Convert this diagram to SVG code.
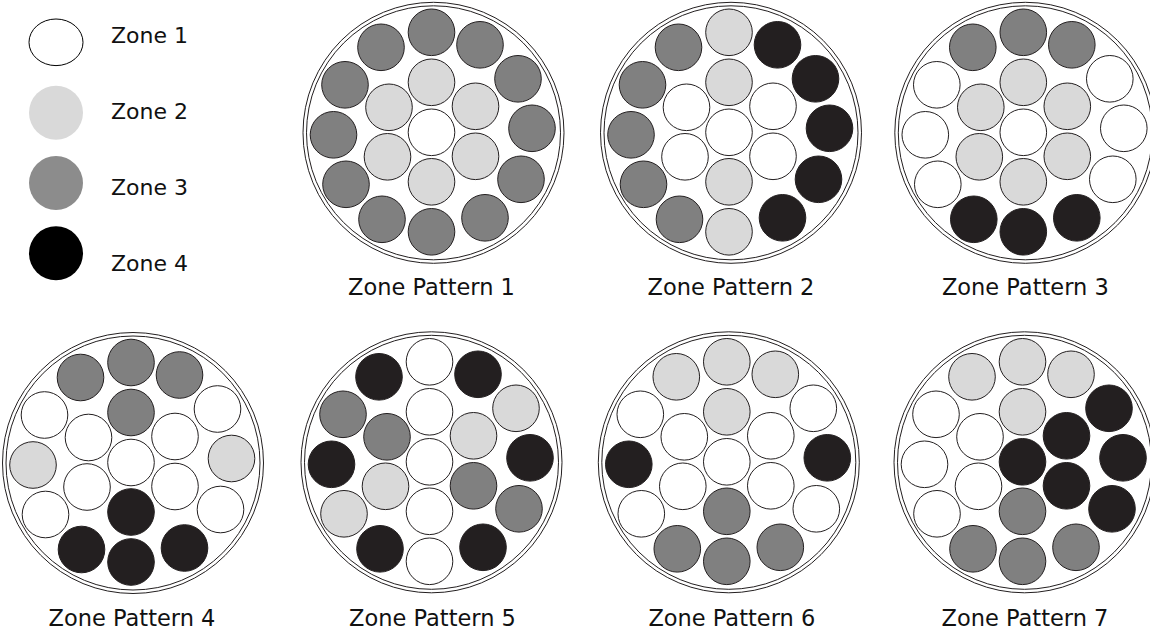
<svg xmlns="http://www.w3.org/2000/svg" width="1150" height="633" viewBox="0 0 1150 633">
<style>
  text { font-family: "DejaVu Sans", Verdana, sans-serif; fill: #111; }
  .lbl { font-size: 22.5px; text-anchor: middle; }
  .leg { font-size: 22px; }
  .ring { fill: none; stroke: #231f20; stroke-width: 1; }
  .p { stroke: #231f20; stroke-width: 1; }
  .z1 { fill: #ffffff; }
  .z2 { fill: #d9d9d9; }
  .z3 { fill: #808080; }
  .z4 { fill: #231f20; }
</style>
<defs>
  <g id="rings">
    <circle class="ring" cx="2" cy="0.5" r="130.5"/>
    <circle class="ring" cx="2" cy="0.5" r="127"/>
  </g>
</defs>
<rect width="1150" height="633" fill="#ffffff"/>

<g id="legend">
  <ellipse cx="56" cy="42.3" rx="27" ry="23.3" fill="#ffffff" stroke="#000" stroke-width="1"/>
  <circle cx="56" cy="112.7" r="27" fill="#d9d9d9"/>
  <circle cx="56" cy="183" r="27" fill="#8c8c8c"/>
  <circle cx="56" cy="253.3" r="27" fill="#000000"/>
  <text class="leg" x="111" y="42.5">Zone 1</text>
  <text class="leg" x="111" y="119">Zone 2</text>
  <text class="leg" x="111" y="195">Zone 3</text>
  <text class="leg" x="111" y="270.5">Zone 4</text>
</g>

<g id="pattern1" transform="translate(431.5,132.3)">
  <use href="#rings"/>
  <circle class="p z3" cx="0" cy="-100" r="23.3"/>
  <circle class="p z3" cx="48.5" cy="-87.5" r="23.3"/>
  <circle class="p z3" cx="86.5" cy="-53.5" r="23.3"/>
  <circle class="p z3" cx="100.5" cy="-4" r="23.3"/>
  <circle class="p z3" cx="89.5" cy="47" r="23.3"/>
  <circle class="p z3" cx="53.5" cy="85.5" r="23.3"/>
  <circle class="p z3" cx="0" cy="99.5" r="23.3"/>
  <circle class="p z3" cx="-49.5" cy="87" r="23.3"/>
  <circle class="p z3" cx="-85.5" cy="52" r="23.3"/>
  <circle class="p z3" cx="-98" cy="2.5" r="23.3"/>
  <circle class="p z3" cx="-86.5" cy="-47.5" r="23.3"/>
  <circle class="p z3" cx="-50.5" cy="-85" r="23.3"/>
  <circle class="p z2" cx="0" cy="-50" r="23.3"/>
  <circle class="p z2" cx="44" cy="-26" r="23.3"/>
  <circle class="p z2" cx="44" cy="24" r="23.3"/>
  <circle class="p z2" cx="0" cy="49.5" r="23.3"/>
  <circle class="p z2" cx="-44" cy="24.5" r="23.3"/>
  <circle class="p z2" cx="-42.5" cy="-25" r="23.3"/>
  <circle class="p z1" cx="0" cy="0" r="23.3"/>
  <text class="lbl" x="0" y="163.2">Zone Pattern 1</text>
</g>

<g id="pattern2" transform="translate(729,132.3)">
  <use href="#rings"/>
  <circle class="p z2" cx="0" cy="-100" r="23.3"/>
  <circle class="p z4" cx="48.5" cy="-87.5" r="23.3"/>
  <circle class="p z4" cx="86.5" cy="-53.5" r="23.3"/>
  <circle class="p z4" cx="100.5" cy="-4" r="23.3"/>
  <circle class="p z4" cx="89.5" cy="47" r="23.3"/>
  <circle class="p z4" cx="53.5" cy="85.5" r="23.3"/>
  <circle class="p z2" cx="0" cy="99.5" r="23.3"/>
  <circle class="p z3" cx="-49.5" cy="87" r="23.3"/>
  <circle class="p z3" cx="-85.5" cy="52" r="23.3"/>
  <circle class="p z3" cx="-98" cy="2.5" r="23.3"/>
  <circle class="p z3" cx="-86.5" cy="-47.5" r="23.3"/>
  <circle class="p z3" cx="-50.5" cy="-85" r="23.3"/>
  <circle class="p z2" cx="0" cy="-50" r="23.3"/>
  <circle class="p z1" cx="44" cy="-26" r="23.3"/>
  <circle class="p z1" cx="44" cy="24" r="23.3"/>
  <circle class="p z2" cx="0" cy="49.5" r="23.3"/>
  <circle class="p z1" cx="-44" cy="24.5" r="23.3"/>
  <circle class="p z1" cx="-42.5" cy="-25" r="23.3"/>
  <circle class="p z1" cx="0" cy="0" r="23.3"/>
  <text class="lbl" x="2" y="163.2">Zone Pattern 2</text>
</g>

<g id="pattern3" transform="translate(1023.3,132.3)">
  <use href="#rings"/>
  <circle class="p z3" cx="0" cy="-100" r="23.3"/>
  <circle class="p z3" cx="48.5" cy="-87.5" r="23.3"/>
  <circle class="p z1" cx="86.5" cy="-53.5" r="23.3"/>
  <circle class="p z1" cx="100.5" cy="-4" r="23.3"/>
  <circle class="p z1" cx="89.5" cy="47" r="23.3"/>
  <circle class="p z4" cx="53.5" cy="85.5" r="23.3"/>
  <circle class="p z4" cx="0" cy="99.5" r="23.3"/>
  <circle class="p z4" cx="-49.5" cy="87" r="23.3"/>
  <circle class="p z1" cx="-85.5" cy="52" r="23.3"/>
  <circle class="p z1" cx="-98" cy="2.5" r="23.3"/>
  <circle class="p z1" cx="-86.5" cy="-47.5" r="23.3"/>
  <circle class="p z3" cx="-50.5" cy="-85" r="23.3"/>
  <circle class="p z2" cx="0" cy="-50" r="23.3"/>
  <circle class="p z2" cx="44" cy="-26" r="23.3"/>
  <circle class="p z2" cx="44" cy="24" r="23.3"/>
  <circle class="p z2" cx="0" cy="49.5" r="23.3"/>
  <circle class="p z2" cx="-44" cy="24.5" r="23.3"/>
  <circle class="p z2" cx="-42.5" cy="-25" r="23.3"/>
  <circle class="p z1" cx="0" cy="0" r="23.3"/>
  <text class="lbl" x="2" y="163.2">Zone Pattern 3</text>
</g>

<g id="pattern4" transform="translate(131,462.5)">
  <use href="#rings"/>
  <circle class="p z3" cx="0" cy="-100" r="23.3"/>
  <circle class="p z3" cx="48.5" cy="-87.5" r="23.3"/>
  <circle class="p z1" cx="86.5" cy="-53.5" r="23.3"/>
  <circle class="p z2" cx="100.5" cy="-4" r="23.3"/>
  <circle class="p z1" cx="89.5" cy="47" r="23.3"/>
  <circle class="p z4" cx="53.5" cy="85.5" r="23.3"/>
  <circle class="p z4" cx="0" cy="99.5" r="23.3"/>
  <circle class="p z4" cx="-49.5" cy="87" r="23.3"/>
  <circle class="p z1" cx="-85.5" cy="52" r="23.3"/>
  <circle class="p z2" cx="-98" cy="2.5" r="23.3"/>
  <circle class="p z1" cx="-86.5" cy="-47.5" r="23.3"/>
  <circle class="p z3" cx="-50.5" cy="-85" r="23.3"/>
  <circle class="p z3" cx="0" cy="-50" r="23.3"/>
  <circle class="p z1" cx="44" cy="-26" r="23.3"/>
  <circle class="p z1" cx="44" cy="24" r="23.3"/>
  <circle class="p z4" cx="0" cy="49.5" r="23.3"/>
  <circle class="p z1" cx="-44" cy="24.5" r="23.3"/>
  <circle class="p z1" cx="-42.5" cy="-25" r="23.3"/>
  <circle class="p z1" cx="0" cy="0" r="23.3"/>
  <text class="lbl" x="1" y="163.8">Zone Pattern 4</text>
</g>

<g id="pattern5" transform="translate(429.5,461.8)">
  <use href="#rings"/>
  <circle class="p z1" cx="0" cy="-100" r="23.3"/>
  <circle class="p z4" cx="48.5" cy="-87.5" r="23.3"/>
  <circle class="p z2" cx="86.5" cy="-53.5" r="23.3"/>
  <circle class="p z4" cx="100.5" cy="-4" r="23.3"/>
  <circle class="p z3" cx="89.5" cy="47" r="23.3"/>
  <circle class="p z4" cx="53.5" cy="85.5" r="23.3"/>
  <circle class="p z1" cx="0" cy="99.5" r="23.3"/>
  <circle class="p z4" cx="-49.5" cy="87" r="23.3"/>
  <circle class="p z2" cx="-85.5" cy="52" r="23.3"/>
  <circle class="p z4" cx="-98" cy="2.5" r="23.3"/>
  <circle class="p z3" cx="-86.5" cy="-47.5" r="23.3"/>
  <circle class="p z4" cx="-50.5" cy="-85" r="23.3"/>
  <circle class="p z1" cx="0" cy="-50" r="23.3"/>
  <circle class="p z2" cx="44" cy="-26" r="23.3"/>
  <circle class="p z3" cx="44" cy="24" r="23.3"/>
  <circle class="p z1" cx="0" cy="49.5" r="23.3"/>
  <circle class="p z2" cx="-44" cy="24.5" r="23.3"/>
  <circle class="p z3" cx="-42.5" cy="-25" r="23.3"/>
  <circle class="p z1" cx="0" cy="0" r="23.3"/>
  <text class="lbl" x="3" y="164.5">Zone Pattern 5</text>
</g>

<g id="pattern6" transform="translate(726.8,461.8)">
  <use href="#rings"/>
  <circle class="p z2" cx="0" cy="-100" r="23.3"/>
  <circle class="p z2" cx="48.5" cy="-87.5" r="23.3"/>
  <circle class="p z1" cx="86.5" cy="-53.5" r="23.3"/>
  <circle class="p z4" cx="100.5" cy="-4" r="23.3"/>
  <circle class="p z1" cx="89.5" cy="47" r="23.3"/>
  <circle class="p z3" cx="53.5" cy="85.5" r="23.3"/>
  <circle class="p z3" cx="0" cy="99.5" r="23.3"/>
  <circle class="p z3" cx="-49.5" cy="87" r="23.3"/>
  <circle class="p z1" cx="-85.5" cy="52" r="23.3"/>
  <circle class="p z4" cx="-98" cy="2.5" r="23.3"/>
  <circle class="p z1" cx="-86.5" cy="-47.5" r="23.3"/>
  <circle class="p z2" cx="-50.5" cy="-85" r="23.3"/>
  <circle class="p z2" cx="0" cy="-50" r="23.3"/>
  <circle class="p z1" cx="44" cy="-26" r="23.3"/>
  <circle class="p z1" cx="44" cy="24" r="23.3"/>
  <circle class="p z3" cx="0" cy="49.5" r="23.3"/>
  <circle class="p z1" cx="-44" cy="24.5" r="23.3"/>
  <circle class="p z1" cx="-42.5" cy="-25" r="23.3"/>
  <circle class="p z1" cx="0" cy="0" r="23.3"/>
  <text class="lbl" x="5" y="164.5">Zone Pattern 6</text>
</g>

<g id="pattern7" transform="translate(1022.5,461.8)">
  <use href="#rings"/>
  <circle class="p z2" cx="0" cy="-100" r="23.3"/>
  <circle class="p z2" cx="48.5" cy="-87.5" r="23.3"/>
  <circle class="p z4" cx="86.5" cy="-53.5" r="23.3"/>
  <circle class="p z4" cx="100.5" cy="-4" r="23.3"/>
  <circle class="p z4" cx="89.5" cy="47" r="23.3"/>
  <circle class="p z3" cx="53.5" cy="85.5" r="23.3"/>
  <circle class="p z3" cx="0" cy="99.5" r="23.3"/>
  <circle class="p z3" cx="-49.5" cy="87" r="23.3"/>
  <circle class="p z1" cx="-85.5" cy="52" r="23.3"/>
  <circle class="p z1" cx="-98" cy="2.5" r="23.3"/>
  <circle class="p z1" cx="-86.5" cy="-47.5" r="23.3"/>
  <circle class="p z2" cx="-50.5" cy="-85" r="23.3"/>
  <circle class="p z2" cx="0" cy="-50" r="23.3"/>
  <circle class="p z4" cx="44" cy="-26" r="23.3"/>
  <circle class="p z4" cx="44" cy="24" r="23.3"/>
  <circle class="p z3" cx="0" cy="49.5" r="23.3"/>
  <circle class="p z1" cx="-44" cy="24.5" r="23.3"/>
  <circle class="p z1" cx="-42.5" cy="-25" r="23.3"/>
  <circle class="p z4" cx="0" cy="0" r="23.3"/>
  <text class="lbl" x="2.5" y="164.5">Zone Pattern 7</text>
</g>

<g id="connectors"></g>
</svg>
